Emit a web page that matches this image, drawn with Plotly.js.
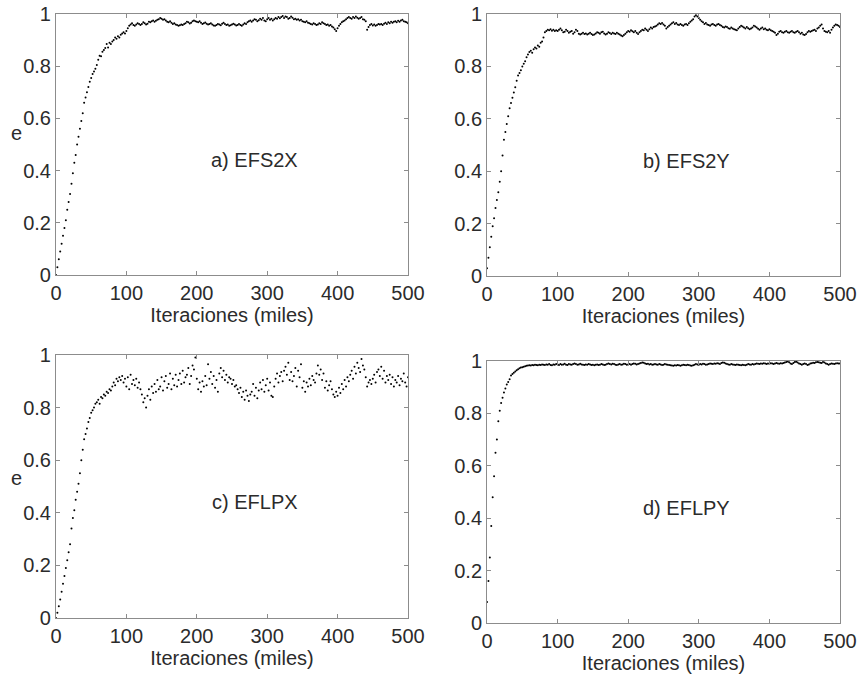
<!DOCTYPE html>
<html>
<head>
<meta charset="utf-8">
<script src="https://cdn.plot.ly/plotly-3.0.1.min.js"></script>
<style>html,body{margin:0;padding:0;background:#fff;}#chart{width:860px;height:676px;}</style>
</head>
<body>
<div id="chart"></div>
<script>
// Sample step (miles de iteraciones) between consecutive values
const stepMiles = 2;
const xTicks = [0, 100, 200, 300, 400, 500];
const yTicks = [0, 0.2, 0.4, 0.6, 0.8, 1];
const panelLabels = ["a) EFS2X", "b) EFS2Y", "c) EFLPX", "d) EFLPY"];
const xTitle = "Iteraciones (miles)";
const yTitle = "e";

const efs2x = [
0.00,0.03,0.06,0.09,0.12,0.15,0.18,0.21,0.25,0.28,
0.31,0.35,0.39,0.43,0.46,0.50,0.53,0.56,0.59,0.62,
0.66,0.68,0.70,0.72,0.74,0.755,0.77,0.78,0.79,0.805,
0.825,0.84,0.838,0.855,0.862,0.87,0.885,0.872,0.89,0.885,
0.895,0.90,0.91,0.905,0.915,0.91,0.92,0.925,0.93,0.925,
0.935,0.945,0.955,0.96,0.965,0.958,0.955,0.96,0.965,0.962,
0.958,0.962,0.968,0.965,0.96,0.963,0.97,0.968,0.972,0.975,
0.97,0.974,0.978,0.98,0.985,0.982,0.978,0.98,0.975,0.97,
0.968,0.972,0.966,0.962,0.965,0.96,0.958,0.955,0.957,0.96,
0.958,0.962,0.965,0.97,0.968,0.964,0.966,0.972,0.975,0.972,
0.97,0.968,0.972,0.966,0.962,0.965,0.967,0.963,0.96,0.962,
0.965,0.96,0.956,0.955,0.958,0.962,0.96,0.957,0.963,0.966,
0.962,0.958,0.96,0.955,0.957,0.96,0.963,0.96,0.956,0.958,
0.962,0.958,0.955,0.96,0.965,0.962,0.968,0.972,0.975,0.97,
0.975,0.98,0.978,0.972,0.976,0.982,0.978,0.985,0.975,0.972,
0.98,0.985,0.978,0.982,0.975,0.98,0.985,0.982,0.988,0.984,
0.988,0.992,0.985,0.99,0.988,0.982,0.985,0.99,0.986,0.98,
0.982,0.978,0.98,0.975,0.978,0.972,0.97,0.968,0.972,0.966,
0.965,0.962,0.96,0.965,0.962,0.958,0.96,0.965,0.962,0.968,
0.965,0.962,0.958,0.96,0.955,0.958,0.952,0.948,0.942,0.935,
0.945,0.955,0.962,0.968,0.972,0.975,0.98,0.985,0.988,0.985,
0.982,0.988,0.985,0.99,0.986,0.982,0.985,0.988,0.98,0.978,
0.972,0.94,0.95,0.958,0.962,0.956,0.96,0.955,0.958,0.962,
0.96,0.962,0.958,0.963,0.966,0.962,0.968,0.965,0.97,0.966,
0.97,0.972,0.968,0.974,0.97,0.975,0.978,0.972,0.97,0.968,
0.965];

const efs2y = [
0.03,0.07,0.11,0.15,0.19,0.22,0.26,0.29,0.32,0.36,
0.40,0.46,0.52,0.55,0.58,0.61,0.64,0.66,0.68,0.70,
0.72,0.745,0.765,0.775,0.785,0.80,0.81,0.82,0.835,0.845,
0.855,0.86,0.852,0.865,0.872,0.868,0.88,0.875,0.89,0.895,
0.91,0.93,0.935,0.94,0.938,0.942,0.936,0.94,0.935,0.938,
0.935,0.94,0.945,0.938,0.93,0.932,0.94,0.935,0.928,0.932,
0.935,0.925,0.93,0.94,0.935,0.925,0.922,0.925,0.928,0.924,
0.926,0.922,0.925,0.928,0.924,0.92,0.922,0.926,0.93,0.928,
0.925,0.93,0.932,0.926,0.922,0.925,0.93,0.927,0.924,0.928,
0.926,0.924,0.928,0.925,0.922,0.918,0.915,0.92,0.925,0.93,
0.935,0.932,0.938,0.934,0.93,0.935,0.928,0.924,0.93,0.935,
0.94,0.938,0.945,0.94,0.935,0.942,0.948,0.945,0.95,0.952,
0.955,0.96,0.965,0.962,0.966,0.96,0.955,0.945,0.95,0.955,
0.96,0.965,0.968,0.962,0.966,0.96,0.958,0.962,0.958,0.955,
0.96,0.962,0.958,0.965,0.97,0.975,0.98,0.99,0.995,0.99,
0.985,0.978,0.972,0.968,0.962,0.966,0.96,0.958,0.955,0.96,
0.962,0.958,0.955,0.96,0.962,0.958,0.955,0.95,0.948,0.952,
0.95,0.946,0.944,0.948,0.945,0.942,0.94,0.938,0.945,0.95,
0.955,0.952,0.948,0.945,0.95,0.946,0.942,0.945,0.948,0.955,
0.952,0.948,0.944,0.94,0.945,0.948,0.942,0.945,0.94,0.938,
0.942,0.938,0.935,0.932,0.928,0.92,0.925,0.932,0.935,0.93,
0.928,0.932,0.935,0.93,0.928,0.932,0.935,0.93,0.928,0.932,
0.935,0.93,0.925,0.928,0.922,0.92,0.924,0.93,0.935,0.932,
0.935,0.938,0.94,0.935,0.945,0.948,0.955,0.96,0.945,0.935,
0.932,0.93,0.935,0.928,0.94,0.948,0.955,0.96,0.958,0.955,
0.95];

const eflpx = [
0.00,0.02,0.045,0.07,0.10,0.13,0.16,0.19,0.22,0.25,
0.28,0.34,0.38,0.41,0.45,0.48,0.51,0.55,0.60,0.64,
0.68,0.70,0.72,0.745,0.76,0.78,0.79,0.80,0.815,0.82,
0.83,0.815,0.84,0.835,0.85,0.845,0.86,0.855,0.87,0.865,
0.88,0.895,0.885,0.91,0.90,0.915,0.905,0.92,0.895,0.91,
0.88,0.915,0.87,0.925,0.89,0.905,0.885,0.91,0.875,0.895,
0.87,0.85,0.82,0.835,0.80,0.845,0.87,0.83,0.88,0.855,
0.89,0.86,0.905,0.87,0.88,0.915,0.865,0.90,0.92,0.875,
0.89,0.93,0.87,0.91,0.885,0.925,0.88,0.905,0.93,0.89,
0.94,0.895,0.915,0.925,0.95,0.89,0.92,0.96,0.945,0.99,
0.91,0.87,0.895,0.86,0.90,0.88,0.92,0.885,0.965,0.91,
0.935,0.89,0.92,0.875,0.905,0.86,0.93,0.95,0.915,0.94,
0.905,0.925,0.895,0.915,0.91,0.89,0.905,0.88,0.885,0.87,
0.855,0.875,0.84,0.86,0.83,0.865,0.845,0.825,0.85,0.86,
0.89,0.845,0.875,0.835,0.865,0.895,0.87,0.905,0.86,0.885,
0.91,0.865,0.895,0.845,0.84,0.88,0.91,0.93,0.895,0.92,
0.935,0.90,0.94,0.955,0.925,0.97,0.905,0.935,0.90,0.92,
0.95,0.88,0.94,0.915,0.965,0.875,0.90,0.86,0.895,0.88,
0.91,0.885,0.92,0.905,0.895,0.93,0.96,0.925,0.945,0.905,
0.93,0.875,0.90,0.865,0.885,0.90,0.87,0.85,0.84,0.86,
0.845,0.875,0.855,0.89,0.87,0.905,0.88,0.915,0.90,0.925,
0.94,0.91,0.955,0.93,0.97,0.95,0.935,0.985,0.96,0.945,
0.915,0.88,0.895,0.905,0.89,0.91,0.925,0.895,0.935,0.945,
0.92,0.955,0.91,0.94,0.895,0.92,0.905,0.925,0.89,0.915,
0.88,0.905,0.895,0.92,0.885,0.91,0.90,0.93,0.895,0.88,
0.915];

const eflpy = [
0.08,0.16,0.25,0.37,0.48,0.56,0.65,0.70,0.77,0.81,
0.84,0.86,0.88,0.895,0.91,0.92,0.93,0.945,0.95,0.955,
0.96,0.965,0.968,0.972,0.975,0.976,0.978,0.98,0.982,0.983,
0.984,0.983,0.985,0.984,0.986,0.985,0.984,0.986,0.985,0.987,
0.986,0.985,0.987,0.986,0.988,0.985,0.984,0.987,0.986,0.988,
0.987,0.985,0.988,0.986,0.987,0.989,0.986,0.985,0.988,0.987,
0.986,0.988,0.99,0.988,0.986,0.987,0.989,0.987,0.986,0.985,
0.987,0.986,0.988,0.987,0.985,0.986,0.984,0.986,0.987,0.985,
0.986,0.988,0.987,0.985,0.986,0.988,0.99,0.988,0.987,0.989,
0.988,0.986,0.985,0.987,0.988,0.986,0.987,0.989,0.988,0.986,
0.987,0.988,0.986,0.988,0.99,0.989,0.987,0.988,0.99,0.992,
0.994,0.993,0.99,0.988,0.989,0.987,0.988,0.986,0.987,0.988,
0.987,0.986,0.988,0.987,0.985,0.986,0.988,0.987,0.986,0.985,
0.984,0.983,0.982,0.984,0.983,0.985,0.984,0.982,0.984,0.986,
0.985,0.984,0.986,0.985,0.983,0.982,0.984,0.986,0.988,0.987,
0.986,0.988,0.987,0.989,0.988,0.986,0.987,0.988,0.99,0.989,
0.988,0.99,0.989,0.991,0.99,0.988,0.992,0.994,0.993,0.99,
0.988,0.987,0.986,0.988,0.987,0.986,0.985,0.987,0.986,0.985,
0.984,0.986,0.985,0.984,0.986,0.988,0.987,0.986,0.988,0.987,
0.988,0.99,0.989,0.988,0.99,0.989,0.991,0.99,0.988,0.99,
0.989,0.991,0.99,0.988,0.99,0.992,0.99,0.989,0.991,0.99,
0.992,0.994,0.996,0.998,0.995,0.99,0.988,0.992,0.996,0.997,
0.994,0.99,0.988,0.986,0.988,0.99,0.988,0.985,0.987,0.99,
0.991,0.993,0.992,0.995,0.996,0.995,0.993,0.992,0.996,0.994,
0.99,0.988,0.986,0.988,0.99,0.989,0.988,0.99,0.991,0.99,
0.99];

const series = [efs2x, efs2y, eflpx, eflpy];
const FONT = "Arial, 'Liberation Sans', Helvetica, sans-serif";
const TXT = "#2b2b2b";
const FRAME = "#8c8c8c";
const FS = 20;

const domains = [
  {x:[0.0651, 0.4744], y:[0.5932, 0.9793]},
  {x:[0.5663, 0.9767], y:[0.5917, 0.9793]},
  {x:[0.0651, 0.4744], y:[0.0858, 0.4749]},
  {x:[0.5663, 0.9767], y:[0.0784, 0.4660]}
];
// paper position of the "e" labels for the left panels
const eLabelPos = [{x: 0.019, y: 0.803}, null, {x: 0.019, y: 0.293}, null];

const traces = series.map((vals, i) => ({
  type: "scatter",
  mode: "markers",
  x: vals.map((_, k) => k * stepMiles),
  y: vals,
  xaxis: i === 0 ? "x" : "x" + (i + 1),
  yaxis: i === 0 ? "y" : "y" + (i + 1),
  marker: {color: "#000", size: 2},
  hoverinfo: "skip",
  showlegend: false
}));

const layout = {
  width: 860, height: 676, autosize: false,
  margin: {l: 0, r: 0, t: 0, b: 0},
  paper_bgcolor: "#fff", plot_bgcolor: "#fff",
  font: {family: FONT, color: TXT, size: FS},
  showlegend: false,
  annotations: []
};

domains.forEach((d, i) => {
  const n = i === 0 ? "" : String(i + 1);
  const xa = {
    domain: d.x, anchor: "y" + n, range: [0, 500],
    tickvals: xTicks, ticktext: xTicks.map(String),
    showgrid: false, zeroline: false, showline: true, linecolor: FRAME, linewidth: 1,
    mirror: "ticks", ticks: "inside", ticklen: 4, tickcolor: FRAME,
    tickfont: {family: FONT, size: FS, color: TXT},
    title: {text: xTitle, font: {family: FONT, size: FS, color: TXT}, standoff: 1},
    automargin: false
  };
  const ya = {
    domain: d.y, anchor: "x" + n, range: [0, 1],
    tickvals: yTicks, ticktext: yTicks.map(String),
    showgrid: false, zeroline: false, showline: true, linecolor: FRAME, linewidth: 1,
    mirror: "ticks", ticks: "inside", ticklen: 4, tickcolor: FRAME,
    tickfont: {family: FONT, size: FS, color: TXT},
    automargin: false
  };
  layout["xaxis" + n] = xa;
  layout["yaxis" + n] = ya;
  layout.annotations.push({
    text: panelLabels[i], showarrow: false,
    xref: "x" + n + " domain", yref: "y" + n + " domain",
    x: 0.565, y: 0.44, xanchor: "center", yanchor: "middle",
    font: {family: FONT, size: FS, color: TXT}
  });
  if (eLabelPos[i]) {
    layout.annotations.push({
      text: yTitle, showarrow: false, xref: "paper", yref: "paper",
      x: eLabelPos[i].x, y: eLabelPos[i].y, xanchor: "center", yanchor: "middle",
      font: {family: FONT, size: FS, color: TXT}
    });
  }
});

Plotly.newPlot("chart", traces, layout, {staticPlot: true, displayModeBar: false});
</script>
</body>
</html>
